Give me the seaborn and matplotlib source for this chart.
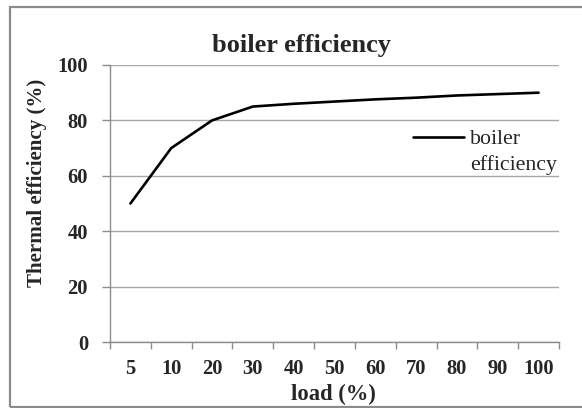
import matplotlib
matplotlib.use("Agg")
import matplotlib.pyplot as plt
import seaborn as sns
import numpy as np
import pandas as pd
from matplotlib.patches import Rectangle

categories = ["5", "10", "20", "30", "40", "50", "60", "70", "80", "90", "100"]
efficiency = [50, 70, 80, 85, 86, 86.8, 87.6, 88.2, 89, 89.5, 90]
y_ticks = [0, 20, 40, 60, 80, 100]

sns.set_theme(style="white")
plt.rcParams['font.family'] = ['Liberation Serif', 'DejaVu Serif']

W, H = 582, 408
df = pd.DataFrame({"pos": np.arange(len(categories)), "eff": efficiency})

fig = plt.figure(figsize=(W / 100, H / 100), dpi=100)
ax = fig.add_axes([110 / W, 1 - 342 / H, 449 / W, 277 / H])

# outer chart border
fig.patches.append(Rectangle((10.5 / W, 1 / H), 1.2, 1 - 8 / H, transform=fig.transFigure,
                             fill=False, edgecolor="#8c8c8c", linewidth=1.6, zorder=0))

sns.lineplot(data=df, x="pos", y="eff", ax=ax, color="black", linewidth=1.9,
             label="boiler")

ax.set_xlim(-0.5, len(categories) - 0.5)
ax.set_ylim(0, 100)
ax.set_yticks(y_ticks)
ax.set_yticklabels([str(v) for v in y_ticks], fontsize=14.8, fontweight="bold")
ax.yaxis.grid(True, color="#a6a6a6", linewidth=1.0)
ax.set_axisbelow(True)

ax.set_xticks(np.arange(-0.5, len(categories), 1.0))
ax.set_xticklabels([])
ax.set_xticks(np.arange(len(categories)), minor=True)
ax.set_xticklabels(categories, minor=True, fontsize=14.8, fontweight="bold")
ax.tick_params(axis="x", which="major", length=4.7, width=1, color="#8c8c8c", direction="out", bottom=True)
ax.tick_params(axis="x", which="minor", length=0, pad=12.6)
ax.tick_params(axis="y", length=5.8, width=1, color="#8c8c8c", direction="out", left=True, pad=10)

for s in ["top", "right"]:
    ax.spines[s].set_visible(False)
for s in ["left", "bottom"]:
    ax.spines[s].set_color("#8c8c8c")
    ax.spines[s].set_linewidth(1.0)

ax.set_xlabel("load (%)", fontsize=16.3, fontweight="bold")
ax.xaxis.label.set_va("baseline")
ax.xaxis.set_label_coords((333 - 110) / 449, (342 - 400) / 277)

ax.set_ylabel("Thermal efficiency (%)", fontsize=15.1, fontweight="bold")
ax.yaxis.label.set_va("center")
ax.yaxis.set_label_coords((37 - 110) / 449, (342 - 183) / 277)

ax.set_title("boiler efficiency", fontsize=19, fontweight="bold", pad=0,
             x=(302 - 110) / 449, y=(342 - 52) / 277, va="baseline")

leg_fs = 15.7
leg = ax.legend(loc="upper left", bbox_to_anchor=(413 / W, 1 - 129 / H),
                bbox_transform=fig.transFigure, frameon=False, fontsize=leg_fs,
                handlelength=2.34, handletextpad=0.28, borderpad=0, borderaxespad=0)
fig.text(470 / W, 1 - 170 / H, "efficiency", fontsize=leg_fs, va="baseline", ha="left")

fig.savefig("out.png", dpi=100)
